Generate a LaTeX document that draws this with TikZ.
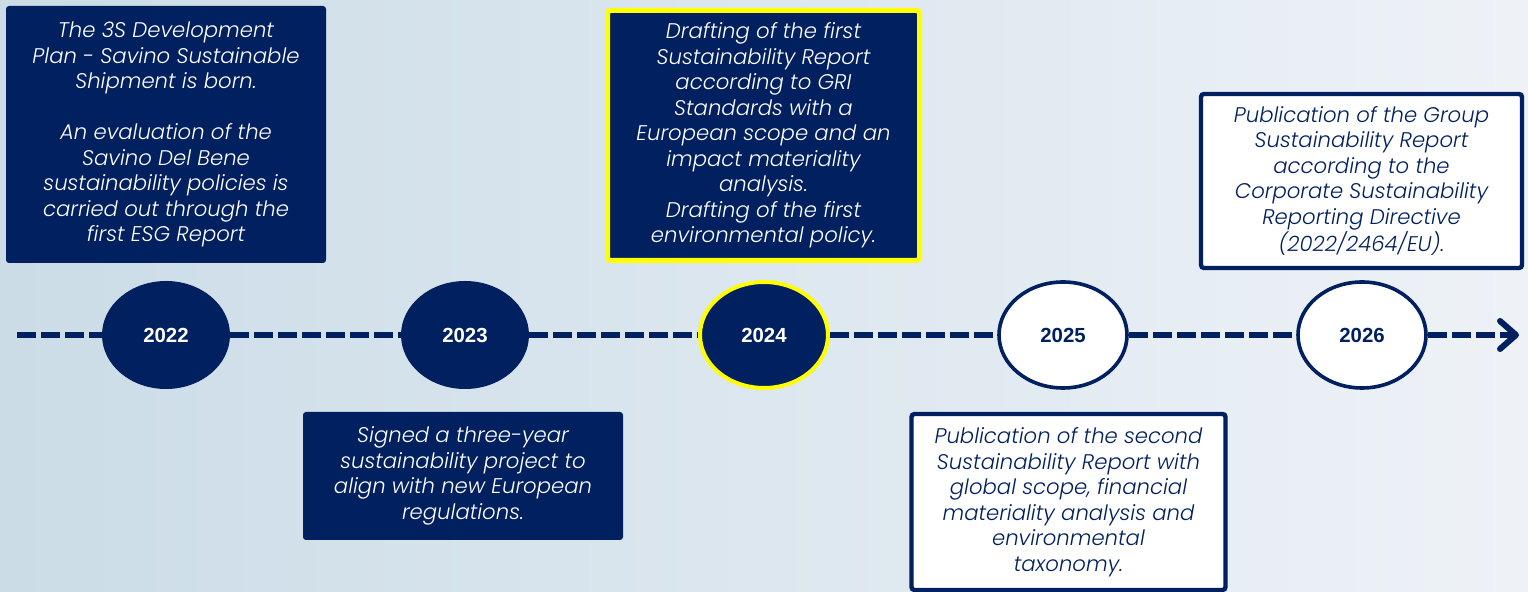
\documentclass[tikz,border=0pt]{standalone}
\usepackage{fontspec}
\setmainfont{Poppins}[ItalicFont={Poppins Light Italic}]
\newfontfamily\yearfont{Liberation Sans}
\usetikzlibrary{arrows.meta,shapes.geometric}
\definecolor{navy}{RGB}{0,32,96}
\definecolor{hl}{RGB}{255,255,0}
\definecolor{bgl}{RGB}{203,220,231}
\definecolor{bgr}{RGB}{238,242,247}
\begin{document}
\begin{tikzpicture}[x=0.5pt,y=-0.5pt,
  boxtext/.style={align=center, inner sep=0pt, font=\itshape\fontsize{10.6}{12.75}\selectfont},
  darkbox/.style={boxtext, fill=navy, text=white, rounded corners=1.5pt},
  hlbox/.style={boxtext, fill=navy, text=white, draw=hl, line width=2.5pt, rounded corners=1.5pt},
  lightbox/.style={boxtext, fill=white, text=navy, draw=navy, line width=2.2pt, rounded corners=1.5pt},
  yeardark/.style={ellipse, fill=navy, text=white, minimum width=64pt, minimum height=54pt, inner sep=0pt, font=\yearfont\bfseries\fontsize{10.2}{11}\selectfont},
  yearhl/.style={yeardark, draw=hl, line width=2pt, minimum width=64pt, minimum height=53pt},
  yearlight/.style={ellipse, fill=white, text=navy, draw=navy, line width=1.8pt, minimum width=64pt, minimum height=53pt, inner sep=0pt, font=\yearfont\bfseries\fontsize{10.2}{11}\selectfont},
  timeline/.style={navy, line width=3pt, dash pattern=on 9.5pt off 2.5pt}
]
\shade[left color=bgl, right color=bgr] (0,0) rectangle (1528,592);
\useasboundingbox (0,0) rectangle (1528,592);

% year ellipses
\node[yeardark] (e22) at (166,335) {2022};
\node[yeardark] (e23) at (465,335) {2023};
\node[yearhl] (e24) at (764,335) {2024};
\node[yearlight] (e25) at (1063,335) {2025};
\node[yearlight] (e26) at (1362,335) {2026};

\coordinate (start) at (17,335);
\coordinate (end) at (1519,335);

\draw[timeline] (start) -- (e22.west);
\draw[timeline] (e22.east) -- (e23.west);
\draw[timeline] (e23.east) -- (e24.west);
\draw[timeline] (e24.east) -- (e25.west);
\draw[timeline] (e25.east) -- (e26.west);
\draw[timeline, -{Straight Barb[length=8pt,width=14pt,line cap=round,line join=round]}] (e26.east) -- (end);

% boxes
\node[darkbox, minimum width=160pt, minimum height=128.5pt] (b22) at (166,134.5)
  {The 3S Development\\Plan - Savino Sustainable\\Shipment is born.\\[12.75pt]An evaluation of the\\Savino Del Bene\\sustainability policies is\\carried out through the\\first ESG Report};
\node[hlbox, minimum width=156pt, minimum height=125pt] (b24) at (763.5,135.5)
  {Drafting of the first\\Sustainability Report\\according to GRI\\Standards with a\\European scope and an\\impact materiality\\analysis.\\Drafting of the first\\environmental policy.};
\node[lightbox, minimum width=160.5pt, minimum height=87pt] (b26) at (1361.5,181)
  {Publication of the Group\\Sustainability Report\\according to the\\Corporate Sustainability\\Reporting Directive\\(2022/2464/EU).};
\node[darkbox, minimum width=160pt, minimum height=64pt] (b23) at (463,476)
  {Signed a three-year\\sustainability project to\\align with new European\\regulations.};
\node[lightbox, minimum width=157pt, minimum height=88pt] (b25) at (1068.5,502)
  {Publication of the second\\Sustainability Report with\\global scope, financial\\materiality analysis and\\environmental\\taxonomy.};
\end{tikzpicture}
\end{document}
